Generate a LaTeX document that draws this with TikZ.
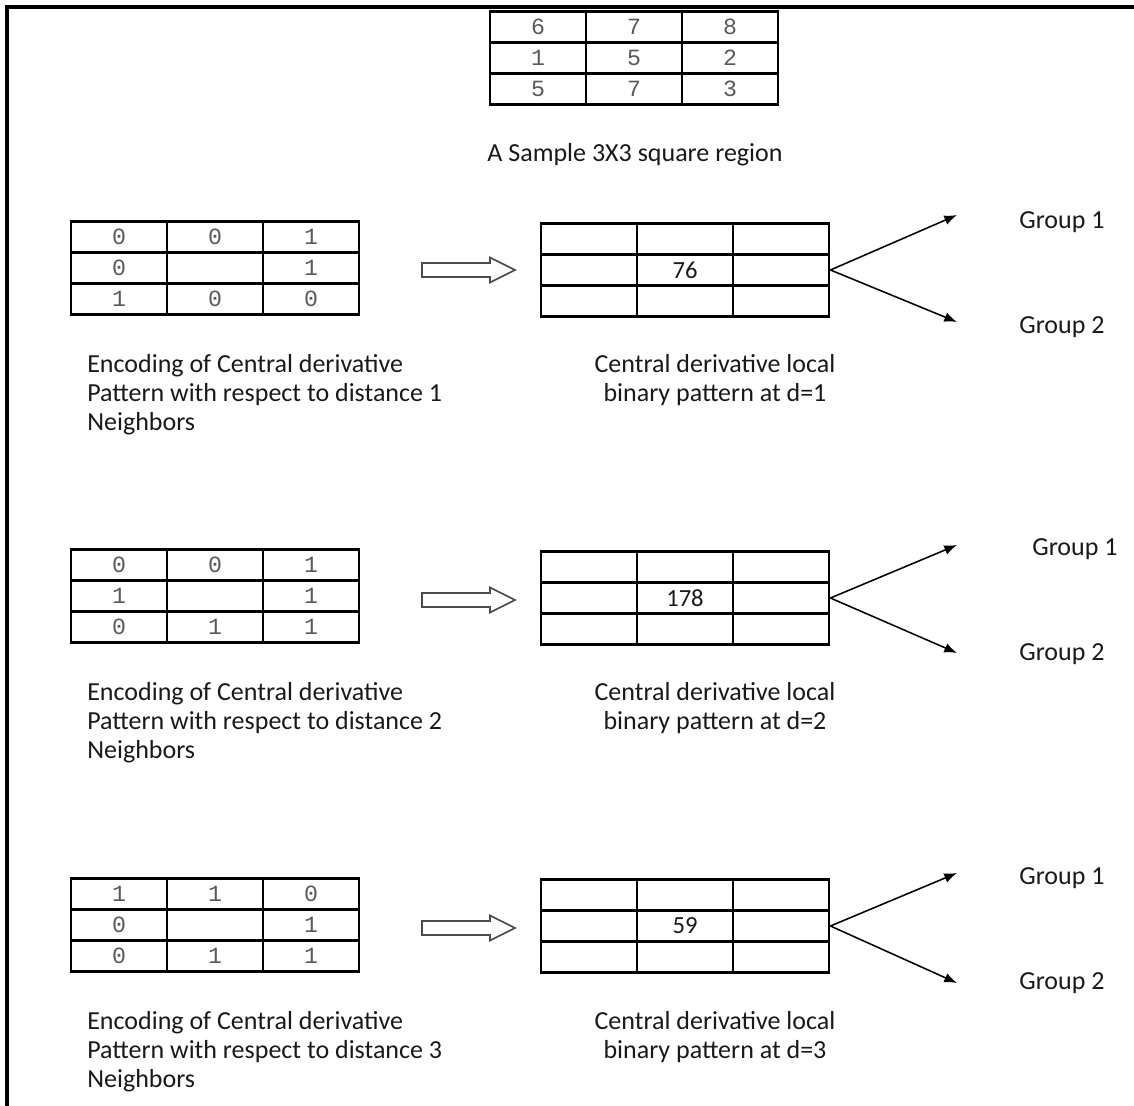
\documentclass[tikz,border=0pt]{standalone}
\usepackage{fontspec}
\setmainfont{Carlito}
\newfontfamily\digitfont{Liberation Mono}
\usetikzlibrary{matrix, arrows.meta, positioning}

\tikzset{
  cellgrid/.style={matrix of nodes, nodes in empty cells, inner sep=0pt,
    column sep=-1.6pt, row sep=-1.6pt,
    nodes={draw, line width=1.6pt, minimum width=2.4cm, minimum height=0.775cm,
      outer sep=0pt, inner sep=0pt, anchor=center}},
  numgrid/.style={cellgrid, nodes={font=\digitfont\fontsize{16.5}{16.5}\selectfont, text=black!65}},
  pixgrid/.style={cellgrid, nodes={font=\fontsize{17.5}{17.5}\selectfont, text=black!90}},
  capt/.style={inner sep=0pt, text=black!90, font=\fontsize{18.5}{20.6}\selectfont},
  fatarrow/.pic={\draw[line width=1.2pt, black!70]
    (0,-7) -- (68,-7) -- (68,-12.5) -- (93,0) -- (68,12.5) -- (68,7) -- (0,7) -- cycle;}
}

\begin{document}
\begin{tikzpicture}[x=0.025cm, y=-0.025cm, >={Latex[length=9pt,width=7pt]}]
    \useasboundingbox (0,0) rectangle (1134,1106);
    \draw[line width=2.2pt] (1134,7) -- (7,7) -- (7,1106);

    % the sample region
    \matrix[numgrid] (sample) at (634,58) {6 & 7 & 8\\ 1 & 5 & 2\\ 5 & 7 & 3\\};
    \node[capt, anchor=north] (title) at (635,143) {A Sample 3X3 square region};

    % distance 1
    \matrix[numgrid] (enc1) at (215,268) {0 & 0 & 1\\ 0 & & 1\\ 1 & 0 & 0\\};
    \node[capt, align=left, anchor=north west] (enccap1) at (87,354)
        {Encoding of Central derivative\\Pattern with respect to distance 1\\Neighbors};
    \pic (ha1) at (422,270) {fatarrow};
    \matrix[pixgrid] (cd1) at (685,270) {& & \\ & 76 & \\ & & \\};
    \node[capt, align=center, anchor=north] (cdcap1) at (715,354)
        {Central derivative local\\binary pattern at d=1};
    \node[capt] (ga1) at (1062,222) {Group 1};
    \node[capt] (gb1) at (1062,327) {Group 2};
    \coordinate (ta1) at (957,215);
    \coordinate (tb1) at (957,322);
    \draw[->, line width=1.1pt] (cd1.east) -- (ta1);
    \draw[->, line width=1.1pt] (cd1.east) -- (tb1);

    % distance 2
    \matrix[numgrid] (enc2) at (215,596) {0 & 0 & 1\\ 1 & & 1\\ 0 & 1 & 1\\};
    \node[capt, align=left, anchor=north west] (enccap2) at (87,682)
        {Encoding of Central derivative\\Pattern with respect to distance 2\\Neighbors};
    \pic (ha2) at (422,600) {fatarrow};
    \matrix[pixgrid] (cd2) at (685,598) {& & \\ & 178 & \\ & & \\};
    \node[capt, align=center, anchor=north] (cdcap2) at (715,682)
        {Central derivative local\\binary pattern at d=2};
    \node[capt] (ga2) at (1075,549) {Group 1};
    \node[capt] (gb2) at (1062,654) {Group 2};
    \coordinate (ta2) at (957,545);
    \coordinate (tb2) at (957,653);
    \draw[->, line width=1.1pt] (cd2.east) -- (ta2);
    \draw[->, line width=1.1pt] (cd2.east) -- (tb2);

    % distance 3
    \matrix[numgrid] (enc3) at (215,925) {1 & 1 & 0\\ 0 & & 1\\ 0 & 1 & 1\\};
    \node[capt, align=left, anchor=north west] (enccap3) at (87,1011)
        {Encoding of Central derivative\\Pattern with respect to distance 3\\Neighbors};
    \pic (ha3) at (422,928) {fatarrow};
    \matrix[pixgrid] (cd3) at (685,926) {& & \\ & 59 & \\ & & \\};
    \node[capt, align=center, anchor=north] (cdcap3) at (715,1011)
        {Central derivative local\\binary pattern at d=3};
    \node[capt] (ga3) at (1062,878) {Group 1};
    \node[capt] (gb3) at (1062,983) {Group 2};
    \coordinate (ta3) at (957,873);
    \coordinate (tb3) at (957,983);
    \draw[->, line width=1.1pt] (cd3.east) -- (ta3);
    \draw[->, line width=1.1pt] (cd3.east) -- (tb3);
\end{tikzpicture}
\end{document}
